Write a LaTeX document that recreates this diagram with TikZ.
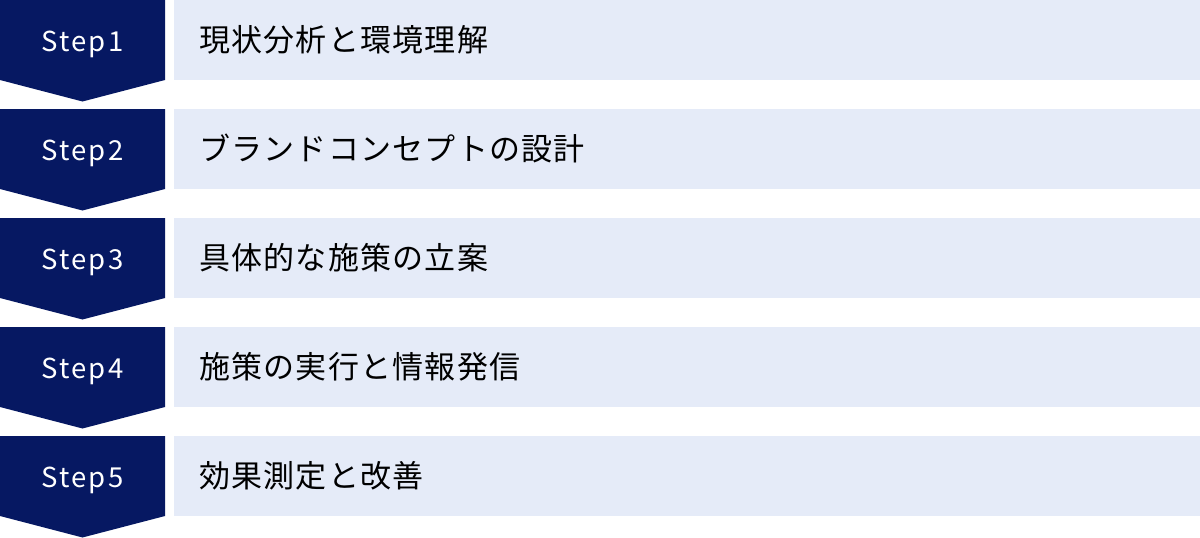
\documentclass[tikz,border=0pt]{standalone}
\usepackage{fontspec}
\setmainfont{Noto Sans CJK JP}
\newfontfamily\jpfont[LetterSpace=4]{Noto Sans CJK JP}
\newfontfamily\stepfont[LetterSpace=8]{Noto Sans CJK JP}
\definecolor{navy}{HTML}{061862}
\definecolor{pale}{HTML}{E5EBF8}
\tikzset{
  stepshape/.style={fill=navy, draw=none},
  barbox/.style={fill=pale, draw=none},
  steplabel/.style={text=white, font=\stepfont\fontsize{27.5}{32}\selectfont, inner sep=0pt, anchor=base},
  bartext/.style={text=black, font=\jpfont\fontsize{31}{36}\selectfont, inner sep=0pt, anchor=base west}
}
\begin{document}
\begin{tikzpicture}[x=1pt,y=-1pt]
\useasboundingbox (0,0) rectangle (1200,538);
\foreach \i/\lbl/\txt in {1/Step1/現状分析と環境理解,2/Step2/ブランドコンセプトの設計,3/Step3/具体的な施策の立案,4/Step4/施策の実行と情報発信,5/Step5/効果測定と改善}{
  \pgfmathsetmacro{\t}{(\i-1)*109}
  \fill[stepshape] (0,\t) -- (165,\t) -- (165,\t+80) -- (82.5,\t+101.5) -- (0,\t+80) -- cycle;
  \fill[barbox] (174,\t) rectangle (1200,\t+80);
  \node[steplabel] (s\i) at (82.5,\t+51) {\lbl};
  \node[bartext] (b\i) at (199,\t+51) {\txt};
}
\end{tikzpicture}
\end{document}
